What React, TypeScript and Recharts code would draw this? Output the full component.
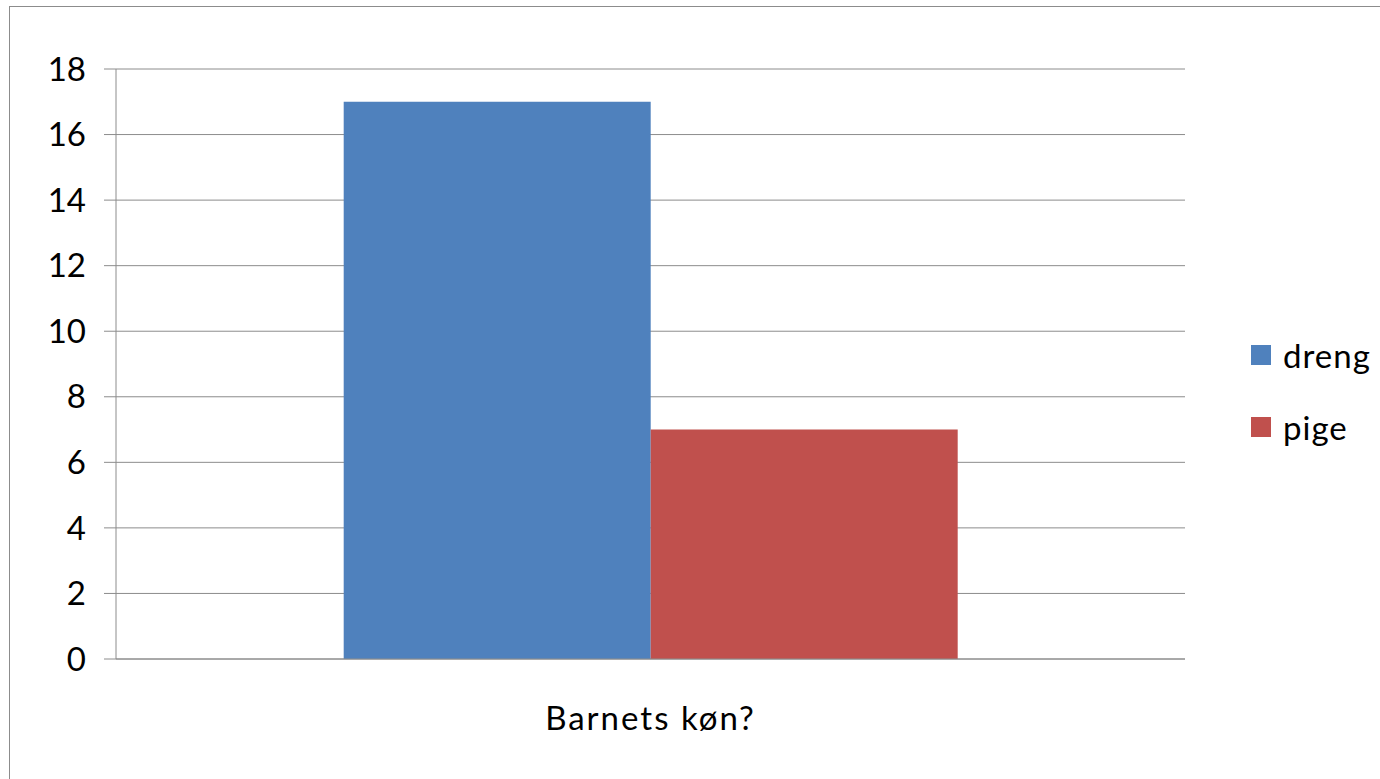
import React from "react";
import { BarChart, Bar, XAxis, YAxis, CartesianGrid, Legend, Label } from "recharts";

const categories = ["Barnets køn?"];
const drengValues = [17];
const pigeValues = [7];
const yTicks = [0, 2, 4, 6, 8, 10, 12, 14, 16, 18];

const data = categories.map((name, i) => ({
    name,
    dreng: drengValues[i],
    pige: pigeValues[i],
}));

const FONT = "Lato, 'Liberation Sans', sans-serif";
const GRID = "#8c8c8c";

function LegendBox(props: any) {
    const { payload } = props;
    return <div style={{ fontFamily: FONT }}>
        {(payload || []).map((entry: any) => (
            <div key={entry.value} style={{ display: "flex", alignItems: "center", height: 72 }}>
                <span style={{ width: 20, height: 20, background: entry.color, display: "inline-block", marginRight: 12 }} />
                <span style={{ fontSize: 33, color: "#000", letterSpacing: 1 }}>{entry.value}</span>
            </div>
        ))}
    </div>
}

export default function App() {
    return <div style={{ position: "fixed", left: 0, top: 0, width: 1380, height: 779, overflow: "hidden", background: "#fff" }}>
        <div style={{ position: "absolute", left: 9, top: 6, width: 1500, height: 900, border: "1px solid #8c8c8c" }} />
        <div style={{ position: "absolute", left: 0, top: 0 }}>
            <BarChart
                width={1380}
                height={779}
                data={data}
                margin={{ top: 69, right: 65, left: 0, bottom: 0 }}
                barCategoryGap="21.3%"
                barGap={0}
            >
                <CartesianGrid vertical={false} stroke={GRID} xAxisId="cat" />
                <XAxis xAxisId="cat" dataKey="name" hide height={0} />
                <XAxis
                    xAxisId="edge"
                    type="number"
                    domain={[0, 1]}
                    ticks={[0, 1]}
                    tick={false}
                    tickSize={11}
                    height={120}
                    stroke={GRID}
                >
                    <Label
                        value={categories[0]}
                        position="insideTop"
                        offset={48}
                        fill="#000"
                        fontSize={33}
                        fontFamily={FONT}
                        style={{ letterSpacing: 2 }}
                    />
                </XAxis>
                <YAxis
                    width={116}
                    domain={[0, 18]}
                    ticks={yTicks}
                    interval={0}
                    tickSize={12}
                    tickMargin={18}
                    stroke={GRID}
                    tick={{ fill: "#000", fontSize: 33, fontFamily: FONT }}
                />
                <Legend
                    layout="vertical"
                    align="right"
                    verticalAlign="top"
                    content={<LegendBox />}
                    wrapperStyle={{ position: "absolute", left: 1251, top: 319, width: 130 }}
                />
                <Bar xAxisId="cat" dataKey="dreng" fill="#4F81BD" isAnimationActive={false} />
                <Bar xAxisId="cat" dataKey="pige" fill="#C0504D" isAnimationActive={false} />
            </BarChart>
        </div>
    </div>
}
